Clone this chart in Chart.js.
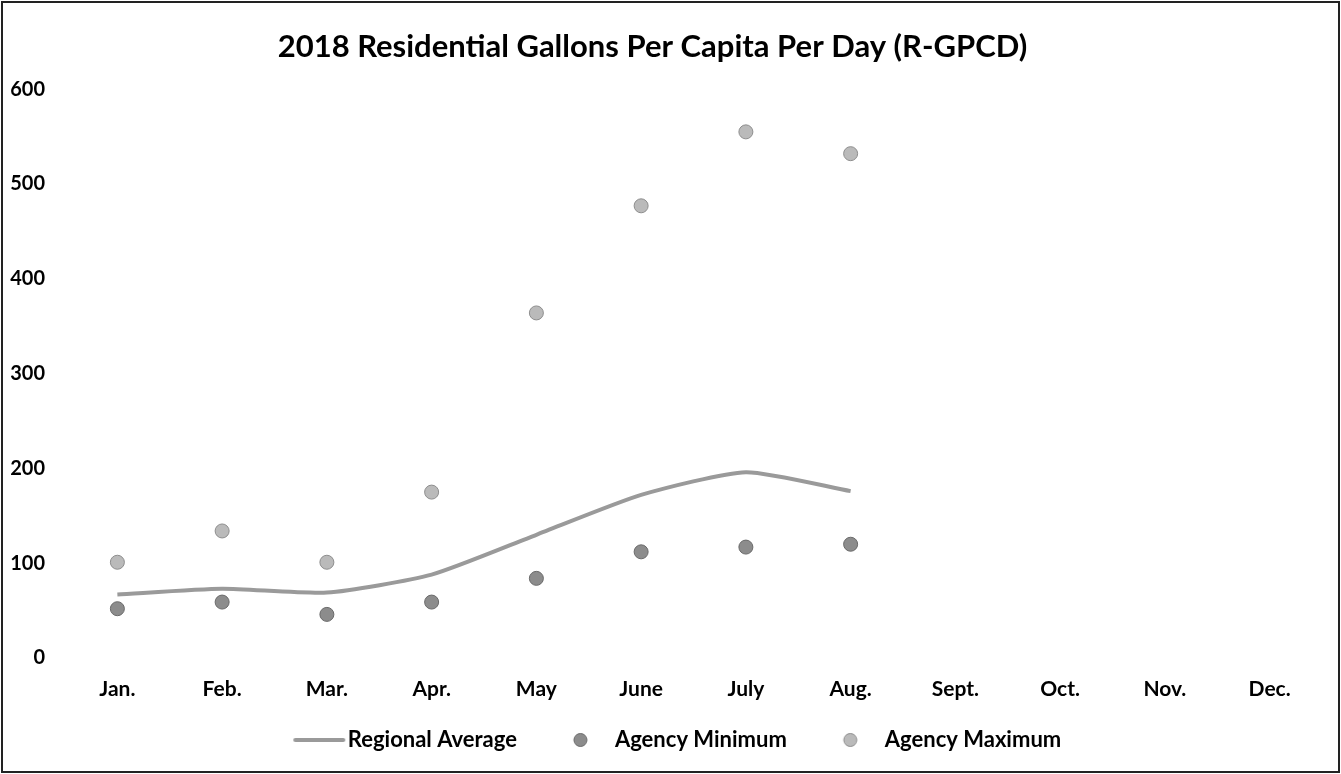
<!DOCTYPE html>
<html>
<head>
<meta charset="utf-8">
<script src="https://cdn.jsdelivr.net/npm/chart.js@4.4.1/dist/chart.umd.min.js"></script>
<style>
  html, body { margin: 0; padding: 0; background: #fff; }
  #wrap { width: 1341px; height: 774px; position: relative; }
</style>
</head>
<body>
<div id="wrap"><canvas id="c" width="1341" height="774"></canvas></div>
<script>
const titleText = '2018 Residential Gallons Per Capita Per Day (R-GPCD)';
const months = ['Jan.', 'Feb.', 'Mar.', 'Apr.', 'May', 'June', 'July', 'Aug.', 'Sept.', 'Oct.', 'Nov.', 'Dec.'];
const regionalAverage = [67, 73, 69, 88, 130, 172, 196, 176, null, null, null, null];
const agencyMinimum = [52, 59, 46, 59, 84, 112, 117, 120, null, null, null, null];
const agencyMaximum = [101, 134, 101, 175, 364, 477, 555, 532, null, null, null, null];
const yTicks = [0, 100, 200, 300, 400, 500, 600];

const FONT = 'Lato, "Open Sans", sans-serif';
const lineColor = '#9a9a9a';
const minFill = '#8c8c8c', minBorder = '#6a6a6a';
const maxFill = '#bababa', maxBorder = '#8e8e8e';

// Legend icons (decoration only): drawn inside a wide box so spacing matches the reference
function legendIcon(kind) {
  const cv = document.createElement('canvas');
  const ctx = cv.getContext('2d');
  if (kind === 'line') {
    cv.width = 120; cv.height = 6;
    ctx.strokeStyle = lineColor; ctx.lineWidth = 4; ctx.lineCap = 'round';
    ctx.beginPath(); ctx.moveTo(57, 3); ctx.lineTo(105, 3); ctx.stroke();
  } else {
    cv.width = 77; cv.height = 16;
    ctx.fillStyle = kind === 'min' ? minFill : maxFill;
    ctx.strokeStyle = kind === 'min' ? minBorder : maxBorder;
    ctx.lineWidth = 1;
    ctx.beginPath(); ctx.arc(53.5, 8, 6.5, 0, Math.PI * 2); ctx.fill(); ctx.stroke();
  }
  return cv;
}
const icons = [legendIcon('line'), legendIcon('min'), legendIcon('max')];

const framePlugin = {
  id: 'frame',
  afterLayout(chart) {
    if (chart.titleBlock) { chart.titleBlock.left = 0; chart.titleBlock.right = 1305; }
    if (chart.legend) { chart.legend.left = 0; chart.legend.right = 1321; }
  },
  beforeDraw(chart) {
    const ctx = chart.ctx;
    ctx.save(); ctx.fillStyle = '#fff'; ctx.fillRect(0, 0, chart.width, chart.height); ctx.restore();
  },
  afterDraw(chart) {
    const ctx = chart.ctx;
    ctx.save(); ctx.strokeStyle = '#222'; ctx.lineWidth = 2;
    ctx.strokeRect(2, 2, chart.width - 4, chart.height - 4); ctx.restore();
  }
};

new Chart(document.getElementById('c'), {
  type: 'line',
  data: {
    labels: months,
    datasets: [
      { label: 'Regional Average', data: regionalAverage, borderColor: lineColor, backgroundColor: lineColor,
        borderWidth: 4, pointRadius: 0, tension: 0.2, fill: false, spanGaps: false },
      { label: 'Agency Minimum', data: agencyMinimum, showLine: false, pointRadius: 7, pointHoverRadius: 7,
        pointBackgroundColor: minFill, pointBorderColor: minBorder, pointBorderWidth: 1,
        borderColor: minBorder, backgroundColor: minFill },
      { label: 'Agency Maximum', data: agencyMaximum, showLine: false, pointRadius: 7, pointHoverRadius: 7,
        pointBackgroundColor: maxFill, pointBorderColor: maxBorder, pointBorderWidth: 1,
        borderColor: maxBorder, backgroundColor: maxFill }
    ]
  },
  options: {
    responsive: false,
    animation: false,
    layout: { padding: { left: 0, right: 19, top: 12, bottom: 13 } },
    plugins: {
      title: { display: true, text: titleText, color: '#000',
        font: { family: FONT, size: 31, weight: 'bold' }, padding: { top: 16, bottom: 24 } },
      legend: { position: 'bottom',
        labels: { color: '#000', font: { family: FONT, size: 22, weight: 'bold' },
          usePointStyle: true, pointStyleWidth: 77, boxHeight: 14, padding: 10,
          sort: (a, b) => a.datasetIndex - b.datasetIndex,
          generateLabels(chart) {
            const items = Chart.defaults.plugins.legend.labels.generateLabels(chart);
            items.forEach(it => { it.pointStyle = icons[it.datasetIndex]; });
            return items;
          } } },
      tooltip: { enabled: false }
    },
    scales: {
      x: { offset: true, grid: { display: false, drawTicks: false, offset: true }, border: { display: false },
        ticks: { color: '#000', padding: 19, font: { family: FONT, size: 21, weight: 'bold' } },
        afterFit(s) { s.height = 61; } },
      y: { min: 0, max: 600, grid: { display: false, drawTicks: false }, border: { display: false },
        afterBuildTicks(s) { s.ticks = yTicks.map(v => ({ value: v })); },
        ticks: { color: '#000', padding: 20, font: { family: FONT, size: 20, weight: 'bold' } },
        afterFit(s) { s.width = 65; } }
    }
  },
  plugins: [framePlugin]
});
</script>
</body>
</html>
